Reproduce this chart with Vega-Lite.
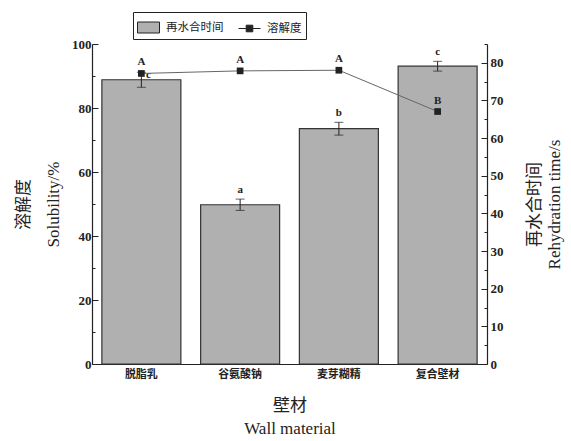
{
  "$schema": "https://vega.github.io/schema/vega-lite/v6.json",
  "width": 395,
  "height": 320,
  "autosize": "none",
  "padding": {"left": 92, "top": 44, "right": 84, "bottom": 77},
  "background": "white",
  "config": {"view": {"stroke": null}},
  "data": {
    "values": [
      {"m": "脱脂乳", "t": 75.5, "tlo": 73.5, "thi": 77.5, "tl": "c", "s": 90.8, "sl": "A"},
      {"m": "谷氨酸钠", "t": 42.3, "tlo": 40.8, "thi": 43.8, "tl": "a", "s": 91.6, "sl": "A"},
      {"m": "麦芽糊精", "t": 62.5, "tlo": 60.8, "thi": 64.2, "tl": "b", "s": 91.8, "sl": "A"},
      {"m": "复合壁材", "t": 79.1, "tlo": 77.8, "thi": 80.4, "tl": "c", "s": 78.9, "sl": "B"}
    ]
  },
  "encoding": {
    "x": {
      "field": "m", "type": "nominal", "sort": null,
      "scale": {"paddingInner": 0.2, "paddingOuter": 0.1},
      "axis": {
        "labelAngle": 0, "labelFont": "Noto Sans CJK SC", "labelFontSize": 11, "labelFontWeight": "bold",
        "labelColor": "#222", "labelPadding": 9,
        "tickSize": -5, "tickColor": "#222", "domainColor": "#222", "domainWidth": 1.2,
        "title": ["壁材", "Wall material"], "titleFont": "Liberation Serif, Noto Sans CJK SC",
        "titleFontSize": 17, "titleFontWeight": "normal", "titleColor": "#222", "titleLineHeight": 23, "titlePadding": 18
      }
    }
  },
  "layer": [
    {
      "encoding": {
        "y": {
          "field": "t", "type": "quantitative",
          "scale": {"domain": [0, 85], "nice": false},
          "axis": {
            "orient": "right", "values": [0,5,10,15,20,25,30,35,40,45,50,55,60,65,70,75,80,85],
            "labelExpr": "datum.value % 10 === 0 ? datum.label : ''",
            "tickSize": {"condition": {"test": "datum.value % 10 === 0", "value": -6}, "value": -3},
            "tickColor": "#222", "domainColor": "#222", "domainWidth": 1.2, "grid": false,
            "labelFont": "Liberation Serif", "labelFontSize": 13, "labelFontWeight": "bold", "labelColor": "#222",
            "labelPadding": 9,
            "title": ["再水合时间", "Rehydration time/s"], "titleAngle": 270,
            "titleFont": "Liberation Serif, Noto Sans CJK SC", "titleFontSize": 17, "titleFontWeight": "normal",
            "titleColor": "#222", "titleLineHeight": 20, "titlePadding": 20
          }
        }
      },
      "layer": [
        {
          "mark": {"type": "bar", "stroke": "#333", "strokeWidth": 1.2},
          "encoding": {
            "color": {
              "datum": "再水合时间",
              "scale": {"domain": ["再水合时间", "溶解度"], "range": ["#b0b0b0", "#222222"]},
              "legend": {
                "title": null, "orient": "none", "legendX": 41, "legendY": -32, "direction": "horizontal",
                "strokeColor": "#222", "padding": 4, "columnPadding": 12,
                "labelFont": "Noto Sans CJK SC", "labelFontSize": 11.5, "labelColor": "#222",
                "symbolSize": 484, "labelOffset": 6,
                "symbolType": {"expr": "datum.value === '溶解度' ? 'M-1,0H1M-0.3,-0.3H0.3V0.3H-0.3Z' : 'M-1,-0.5H1V0.5H-1Z'"},
                "symbolStrokeColor": "#222",
                "symbolStrokeWidth": 1,
                "symbolOpacity": 1
              }
            }
          }
        },
        {
          "mark": {"type": "errorbar", "ticks": {"size": 9, "color": "#222"}, "color": "#222", "thickness": 1},
          "encoding": {
            "y": {"field": "tlo", "type": "quantitative"},
            "y2": {"field": "thi"}
          }
        },
        {
          "transform": [{"filter": "datum.m !== '脱脂乳'"}],
          "mark": {"type": "text", "baseline": "bottom", "dy": -4, "font": "Liberation Serif", "fontSize": 11, "fontWeight": "bold", "color": "#222"},
          "encoding": {"y": {"field": "thi", "type": "quantitative"}, "text": {"field": "tl"}}
        },
        {
          "transform": [{"filter": "datum.m === '脱脂乳'"}],
          "mark": {"type": "text", "baseline": "middle", "dx": 7, "dy": 3, "font": "Liberation Serif", "fontSize": 11, "fontWeight": "bold", "color": "#222"},
          "encoding": {"y": {"field": "thi", "type": "quantitative"}, "text": {"field": "tl"}}
        }
      ]
    },
    {
      "encoding": {
        "y": {
          "field": "s", "type": "quantitative",
          "scale": {"domain": [0, 100], "nice": false},
          "axis": {
            "orient": "left", "values": [0,10,20,30,40,50,60,70,80,90,100],
            "labelExpr": "datum.value % 20 === 0 ? datum.label : ''",
            "tickSize": {"condition": {"test": "datum.value % 20 === 0", "value": -6}, "value": -3},
            "tickColor": "#222", "domainColor": "#222", "domainWidth": 1.2, "grid": false,
            "labelFont": "Liberation Serif", "labelFontSize": 13, "labelFontWeight": "bold", "labelColor": "#222",
            "labelPadding": 7,
            "title": ["溶解度", "Solubility/%"],
            "titleFont": "Liberation Serif, Noto Sans CJK SC", "titleFontSize": 17, "titleFontWeight": "normal",
            "titleColor": "#222", "titleLineHeight": 30, "titlePadding": 9
          }
        }
      },
      "layer": [
        {
          "mark": {"type": "line", "strokeWidth": 1, "color": "#666666"},
          "encoding": {}
        },
        {
          "mark": {"type": "point", "shape": "square", "filled": true, "size": 45, "color": "#222", "opacity": 1}
        },
        {
          "mark": {"type": "text", "baseline": "bottom", "dy": -6, "font": "Liberation Serif", "fontSize": 11, "fontWeight": "bold", "color": "#222"},
          "encoding": {"text": {"field": "sl"}}
        }
      ]
    }
  ],
  "resolve": {"scale": {"y": "independent"}}
}
